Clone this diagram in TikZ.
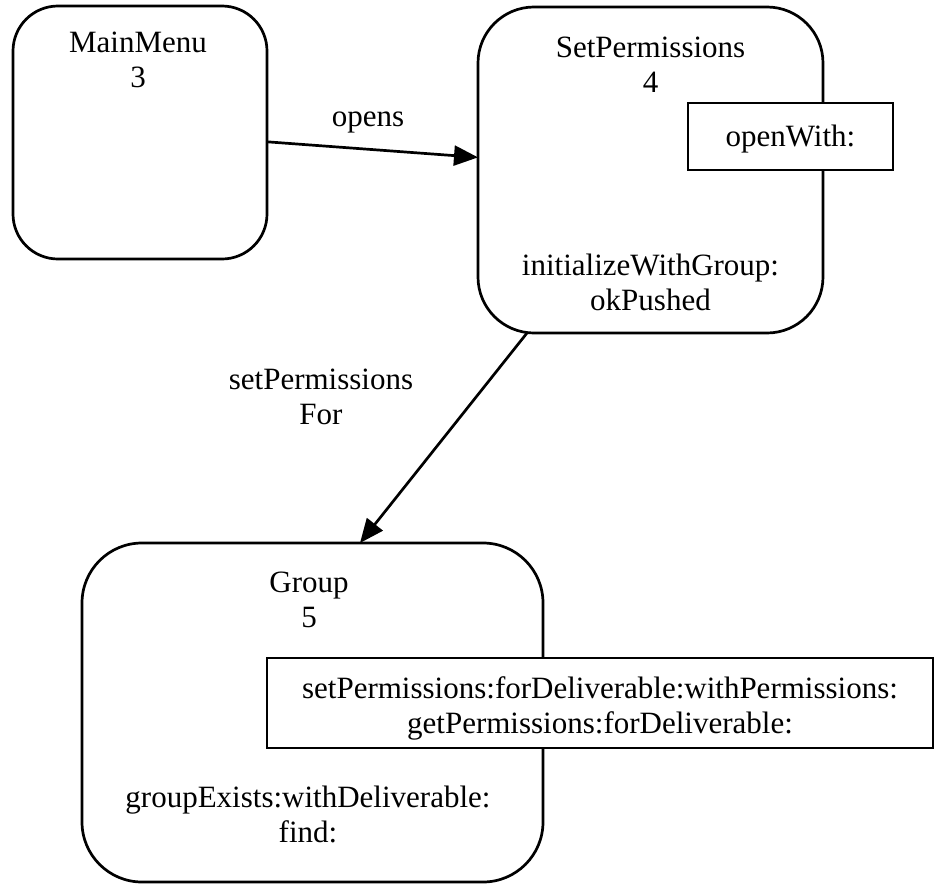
\documentclass[tikz,border=0pt]{standalone}
\usepackage{fontspec}
\setmainfont{Liberation Serif}
\usetikzlibrary{arrows.meta}

\begin{document}
\begin{tikzpicture}[
    x=1pt, y=-1pt,
    every node/.style={font=\fontsize{31}{35}\selectfont, inner sep=0pt, outer sep=0pt},
    classbox/.style={draw, line width=2.7pt, rounded corners=#1},
    methodbox/.style={draw, line width=2.7pt, fill=white},
    label/.style={align=center},
    link/.style={draw, line width=2.7pt, -{Triangle[length=24pt, width=20pt]}}
  ]
  \useasboundingbox (0,0) rectangle (934,886);

  % class boxes
  \node[classbox=45pt, minimum width=254pt, minimum height=253pt] (mainmenu) at (140,132.5) {};
  \node[classbox=56pt, minimum width=345pt, minimum height=326pt] (setperm) at (650.5,170) {};
  \node[classbox=60pt, minimum width=461pt, minimum height=339pt] (group) at (312.5,712.5) {};

  % class titles
  \node[label] (mainmenuTitle) at (138,60) {MainMenu\\3};
  \node[label] (setpermTitle) at (650.5,65) {SetPermissions\\4};
  \node[label] (groupTitle) at (309,600) {Group\\5};

  % internal methods
  \node[label] (setpermInner) at (650.5,282) {initializeWithGroup:\\okPushed};
  \node[label] (groupInner) at (308,814) {groupExists:withDeliverable:\\find:};

  % public methods, drawn over the class border
  \node[methodbox, minimum width=205pt, minimum height=67pt] (openwith) at (790.5,136.5) {};
  \node[label] (openwithText) at (790.5,139) {openWith:};
  \node[methodbox, minimum width=666pt, minimum height=90pt] (groupPublic) at (600,703) {};
  \node[label] (groupPublicText) at (600,708)
    {setPermissions:forDeliverable:withPermissions:\\getPermissions:forDeliverable:};

  % connectors
  \draw[link] (mainmenu) -- (setperm);
  \draw[link] ([xshift=-123.5pt]setperm.south) -- ([xshift=47.5pt]group.north);

  % connector labels
  \node[label] (opensLabel) at (368,122) {opens};
  \node[label] (forLabel) at (321,397) {setPermissions\\For};
\end{tikzpicture}
\end{document}
